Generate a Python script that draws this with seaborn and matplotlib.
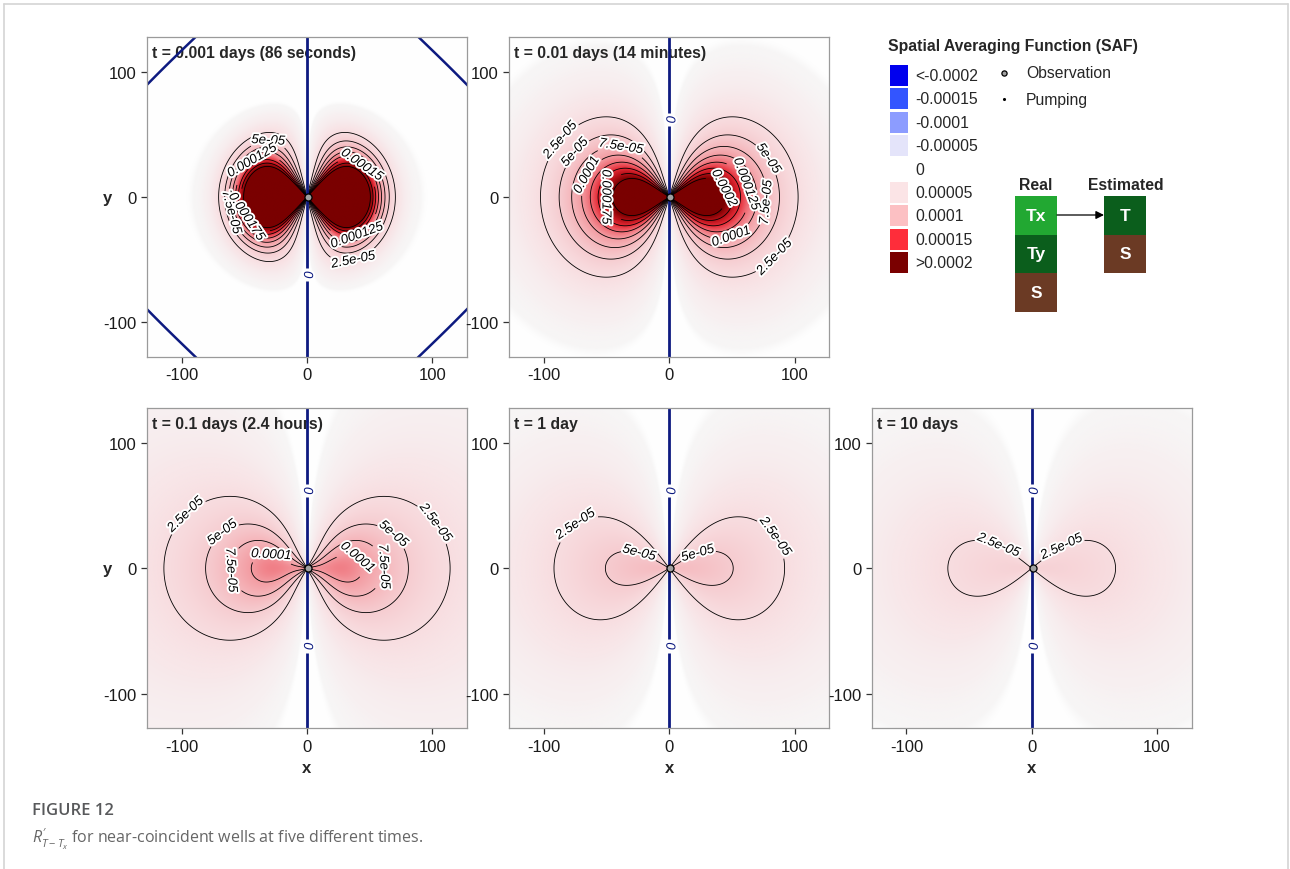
import numpy as np
import pandas as pd
import matplotlib
matplotlib.use("Agg")
import matplotlib.pyplot as plt
import seaborn as sns
from matplotlib.colors import LinearSegmentedColormap, Normalize
from matplotlib.patches import Rectangle
from matplotlib.lines import Line2D
import matplotlib.patheffects as pe

# ---------------- data ----------------
panel_titles = ["t = 0.001 days (86 seconds)", "t = 0.01 days (14 minutes)",
                "t = 0.1 days (2.4 hours)", "t = 1 day", "t = 10 days"]
peak_amplitude = [4.2e-4, 3.3e-4, 2.7e-4, 6.8e-5, 4.12e-5]
radial_scale = [54.0, 64.0, 48.0, 92.0, 94.7]
radial_power = [4.0, 2.0, 1.0, 2.0, 2.0]
core_dip = [0.0, 0.15, 0.58, 0.0, 0.0]
core_scale = [20.0, 20.0, 30.0, 20.0, 20.0]
halo_amplitude = [1.5e-5, 0.0, 0.0, 0.0, 0.0]
halo_scale = [50.0, 1.0, 1.0, 1.0, 1.0]
far_offset = [1e-7, 0.0, 0.0, 0.0, 0.0]
zero_distance = [216.0, 216.0, 216.0, 216.0, 216.0]   # |x|+|y| of the far zero contour

contour_levels = [2.5e-5, 5e-5, 7.5e-5, 1e-4, 1.25e-4, 1.5e-4, 1.75e-4, 2e-4]
axis_ticks = [-100, 0, 100]

legend_labels = ["<-0.0002", "-0.00015", "-0.0001", "-0.00005", "0",
                 "0.00005", "0.0001", "0.00015", ">0.0002"]
legend_colors = ["#0000ee", "#3355ff", "#8c9cff", "#e4e4fa", "#ffffff",
                 "#fbe4e6", "#fcc0c3", "#fe2d3a", "#7a0000"]
well_names = ["Pumping", "Observation"]
well_x = [0.0, 0.8]
well_y = [0.0, 0.0]
real_params = ["Tx", "Ty", "S"]
real_colors = ["#22a832", "#0b5e1c", "#6b3a24"]
est_params = ["T", "S"]
est_colors = ["#0b5e1c", "#6b3a24"]

# ---------------- layout: which contour gets a label, and near where (data units) ----------------
label_spots = [
    [(5e-5, -31, 37), (1.25e-4, -38, 21), (7.5e-5, -56, -11), (1.75e-4, -40, -11),
     (1.5e-4, 37, 17), (1.25e-4, 40, -31), (2.5e-5, 36, -47)],
    [(2.5e-5, -84, 43), (5e-5, -71, 32), (7.5e-5, -40, 32), (1e-4, -61, 15),
     (1.75e-4, -39, 0), (2e-4, 36, 3), (1.25e-4, 55, 8), (5e-5, 75, 28),
     (7.5e-5, 76, -4), (1e-4, 47, -25), (2.5e-5, 83, -47)],
    [(2.5e-5, -94, 40), (5e-5, -64, 24), (7.5e-5, -54, -1), (1e-4, -30, 4),
     (1e-4, 36, 3), (7.5e-5, 56, 1), (5e-5, 66, 24), (2.5e-5, 98, 33)],
    [(2.5e-5, -72, 31), (5e-5, -25, 9), (5e-5, 24, 8), (2.5e-5, 81, 23)],
    [(2.5e-5, -28, 15), (2.5e-5, 25, 15)],
]
zero_label_y = [[-62], [62], [62, -62], [62, -62], [62, -62]]

# ---------------- style ----------------
sns.set_style("white")
plt.rcParams["font.family"] = ["Liberation Sans", "DejaVu Sans"]
plt.rcParams["axes.unicode_minus"] = False
plt.rcParams["mathtext.fontset"] = "custom"
plt.rcParams["mathtext.it"] = "Open Sans:italic"
plt.rcParams["mathtext.rm"] = "Open Sans"

W, H = 1290, 870
fig = plt.figure(figsize=(W / 100, H / 100), dpi=100)

ov = fig.add_axes([0, 0, 1, 1])
ov.set_xlim(0, W)
ov.set_ylim(H, 0)
ov.axis("off")

vmin, vmax = -2e-4, 2e-4
nodes = [(-2e-4, "#0000ee"), (-1.5e-4, "#3355ff"), (-1e-4, "#8c9cff"), (-5e-5, "#e3e3f9"),
         (-3e-7, "#fbfbfe"), (0.0, "#ffffff"), (4.5e-7, "#fefefe"), (7.5e-7, "#f7f6f6"),
         (3e-6, "#f7f0f1"), (1e-5, "#f8e8ea"), (2.5e-5, "#f8dde0"), (5e-5, "#f6ccd0"),
         (7.5e-5, "#f5b6bb"), (1e-4, "#f39ca2"), (1.25e-4, "#ef6a73"), (1.5e-4, "#e52a35"),
         (1.75e-4, "#b30f17"), (2e-4, "#7a0000")]
cmap = LinearSegmentedColormap.from_list(
    "saf", [((v - vmin) / (vmax - vmin), c) for v, c in nodes], N=8192)
norm = Normalize(vmin, vmax, clip=True)

navy = "#0d1a80"
g = np.linspace(-130, 130, 520)
X, Y = np.meshgrid(g, g)
R = np.hypot(X, Y)
Rs = np.where(R < 1e-9, 1e-9, R)
COS2 = X ** 2 / Rs ** 2
D1 = np.abs(X) + np.abs(Y)


def saf_field(i):
    gr = peak_amplitude[i] * np.exp(-(R / radial_scale[i]) ** radial_power[i]) \
        * (1 - core_dip[i] * np.exp(-(R / core_scale[i]) ** 2))
    gr = gr + halo_amplitude[i] * np.exp(-(R / halo_scale[i]) ** 2)
    return COS2 * gr + far_offset[i] * (1 - D1 / zero_distance[i])


panel_px = [(147, 38), (509.3, 38), (147, 409.3), (509.3, 409.3), (871.7, 409.3)]
S = 320
lim = 127.7
fmt = lambda v: f"{v:g}"
halo = [pe.withStroke(linewidth=2.8, foreground="white")]


def style_labels(texts):
    for t in texts:
        t.set_fontstyle("italic")
        t.set_path_effects(halo)


wells = pd.DataFrame({"name": well_names, "x": well_x, "y": well_y})

for i, (px, py) in enumerate(panel_px):
    ax = fig.add_axes([px / W, 1 - (py + S) / H, S / W, S / H])
    Z = saf_field(i)
    ax.imshow(Z, extent=[g[0], g[-1], g[0], g[-1]], origin="lower", cmap=cmap, norm=norm,
              interpolation="bilinear", aspect="auto", zorder=0)
    for lev in contour_levels:
        csl = ax.contour(X, Y, Z, levels=[lev], colors="black", linewidths=0.6, zorder=2)
        spots = [(sx, sy) for (lv, sx, sy) in label_spots[i] if lv == lev]
        if spots and len(csl.allsegs[0]) > 0:
            style_labels(ax.clabel(csl, fmt=fmt, fontsize=9.5, inline=True,
                                   inline_spacing=1, manual=spots))
    if far_offset[i] > 0:
        ax.contour(X, Y, Z, levels=[0], colors=navy, linewidths=1.8, zorder=2)
    cv = ax.contour(X, Y, X, levels=[0], colors=navy, linewidths=2.0, zorder=2)
    style_labels(ax.clabel(cv, fmt=fmt, fontsize=9.5, inline=True, inline_spacing=3,
                           manual=[(0, yy) for yy in zero_label_y[i]]))
    sns.scatterplot(data=wells[wells.name == "Pumping"], x="x", y="y", ax=ax, color="black",
                    s=6, linewidth=0, zorder=5, legend=False)
    sns.scatterplot(data=wells[wells.name == "Observation"], x="x", y="y", ax=ax,
                    color="#a0a0a0", edgecolor="black", linewidth=0.9, s=26, zorder=6,
                    legend=False)
    ax.set_xlim(-lim, lim)
    ax.set_ylim(-lim, lim)
    ax.set_xticks(axis_ticks)
    ax.set_yticks(axis_ticks)
    ax.tick_params(direction="out", length=4.5, width=0.9, color="#333333",
                   labelsize=12, pad=3, labelcolor="#1a1a1a", bottom=True, left=True)
    for sp in ax.spines.values():
        sp.set_color("#9a9a9a")
        sp.set_linewidth(0.9)
    ax.set_xlabel("")
    ax.set_ylabel("")
    ax.text(0.016, 0.953, panel_titles[i], transform=ax.transAxes, fontsize=11.3,
            fontweight="bold", ha="left", va="center", zorder=1)
    if i in (0, 2):
        ax.set_ylabel("y", fontsize=12, fontweight="bold", rotation=0, ha="center", va="center")
        ax.yaxis.set_label_coords(-0.125, 0.5)
    if i >= 2:
        ax.set_xlabel("x", fontsize=12, fontweight="bold", va="center")
        ax.xaxis.set_label_coords(0.5, -0.122)

# ---------------- legend ----------------
ov.text(888, 47, "Spatial Averaging Function (SAF)", fontsize=11.3, fontweight="bold",
        ha="left", va="center")
for k, (lab, col) in enumerate(zip(legend_labels, legend_colors)):
    cy = 76.5 + 23.4 * k
    ov.add_patch(Rectangle((890, cy - 10.5), 18, 21, facecolor=col, edgecolor="none"))
    ov.text(915, cy, lab, fontsize=11.3, ha="left", va="center")
ov.scatter([1004], [74], s=14, color="#a0a0a0", edgecolor="black", linewidth=0.9, zorder=5)
ov.text(1026, 74, well_names[1], fontsize=11.3, ha="left", va="center")
ov.scatter([1004], [100], s=5, color="black", linewidth=0, zorder=5)
ov.text(1026, 100, well_names[0], fontsize=11.3, ha="left", va="center")

ov.text(1036, 186, "Real", fontsize=11.3, fontweight="bold", ha="center", va="center")
ov.text(1126, 186, "Estimated", fontsize=11.3, fontweight="bold", ha="center", va="center")
bh = 38.5
for k, (p, c) in enumerate(zip(real_params, real_colors)):
    y0 = 197 + bh * k
    ov.add_patch(Rectangle((1015, y0), 42, bh, facecolor=c, edgecolor="none"))
    ov.text(1036, y0 + bh / 2, p, color="white", fontsize=12.5, fontweight="bold",
            ha="center", va="center")
for k, (p, c) in enumerate(zip(est_params, est_colors)):
    y0 = 197 + bh * k
    ov.add_patch(Rectangle((1104, y0), 42, bh, facecolor=c, edgecolor="none"))
    ov.text(1125, y0 + bh / 2, p, color="white", fontsize=12.5, fontweight="bold",
            ha="center", va="center")
ov.annotate("", xy=(1104, 216), xytext=(1057, 216),
            arrowprops=dict(arrowstyle="-|>", color="black", lw=0.9, mutation_scale=12,
                            shrinkA=0, shrinkB=0))

# ---------------- caption & frame ----------------
ov.text(32, 811, "FIGURE 12", fontsize=12, fontweight="semibold", family="Open Sans",
        color="#58595b", ha="left", va="center")
ov.text(32, 839, r"$R^{\prime}_{T-T_x}$ for near-coincident wells at five different times.",
        fontsize=11.5, family="Open Sans", color="#666666", ha="left", va="center")
for xs, ys in [((4, 4), (5, H)), ((4, 1288), (5, 5)), ((1288, 1288), (5, H))]:
    ov.add_line(Line2D(xs, ys, color="#d4d4d4", linewidth=1.2))

fig.savefig("out.png", dpi=100)
